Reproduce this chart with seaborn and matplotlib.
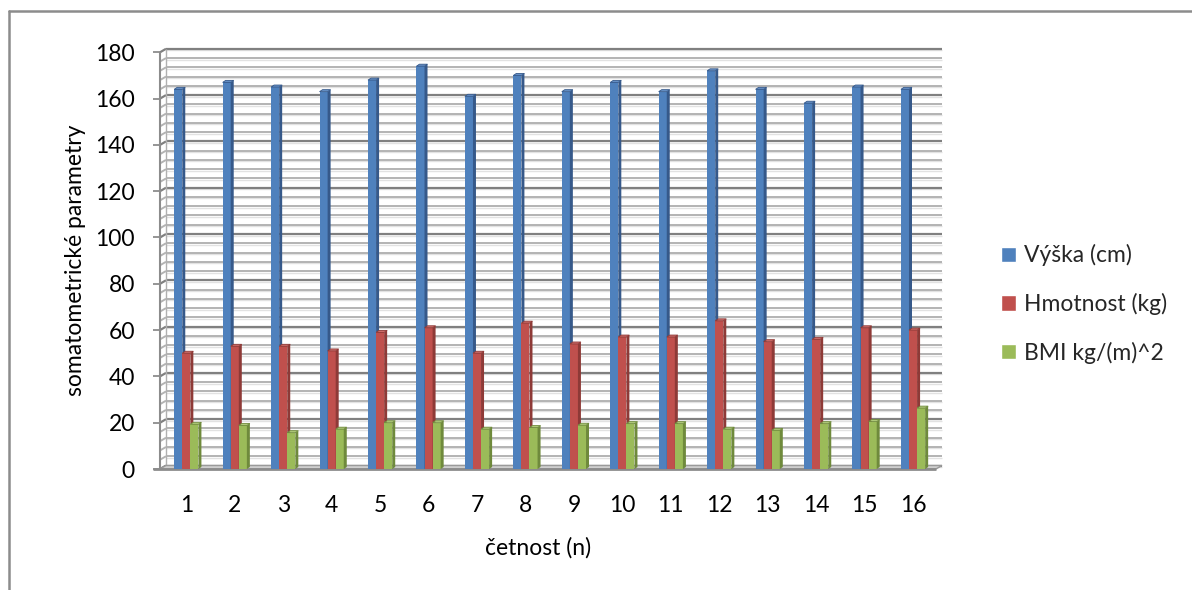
import numpy as np
import pandas as pd
import seaborn as sns
import matplotlib
matplotlib.use("Agg")
import matplotlib.pyplot as plt
from matplotlib.patches import Polygon
from matplotlib.lines import Line2D
from matplotlib.transforms import IdentityTransform

# --- data -------------------------------------------------------------
categories = [str(i) for i in range(1, 17)]
vyska = [164, 167, 165, 163, 168, 174, 161, 170, 163, 167, 163, 172, 164, 158, 165, 164]
hmotnost = [50, 53, 53, 51, 59, 61, 50, 63, 54, 57, 57, 64, 55, 56, 61, 60]
bmi = [19.3, 18.8, 15.7, 17.2, 20.0, 20.0, 17.2, 17.9, 18.9, 19.6, 19.6, 17.2, 16.7, 19.6, 20.5, 26.3]
series_names = ["Výška (cm)", "Hmotnost (kg)", "BMI kg/(m)^2"]
y_ticks = list(range(0, 181, 20))
y_minor = list(range(0, 181, 4))

# --- styling ----------------------------------------------------------
front_colors = ["#4F81BD", "#C0504D", "#9BBB59"]
side_colors = ["#36598A", "#8E3A37", "#6F8A3C"]
top_colors = ["#6690C6", "#CC6B68", "#AFC97A"]

sns.set_theme(style="white")
plt.rcParams["font.family"] = ["Lato", "DejaVu Sans"]
FS = 16.5

df = pd.DataFrame({
    "četnost": categories * 3,
    "hodnota": vyska + hmotnost + bmi,
    "řada": np.repeat(series_names, len(categories)),
})

W, H = 1192, 590
fig = plt.figure(figsize=(W / 100, H / 100), dpi=100)
fig.patch.set_facecolor("white")

# plot area (front plane) in pixels measured from the top-left corner
px_left, px_right, px_bottom, px_top = 160, 936, 469, 52.3
ax = fig.add_axes([px_left / W, 1 - px_bottom / H,
                   (px_right - px_left) / W, (px_bottom - px_top) / H])

sns.barplot(data=df, x="četnost", y="hodnota", hue="řada", hue_order=series_names,
            palette=front_colors, saturation=1, width=0.5, gap=0, ax=ax,
            legend=True, errorbar=None)

ax.set_xlim(-0.543, 15.474)
ax.set_ylim(0, 180)
ax.set_yticks(y_ticks)
ax.set_xlabel("")
ax.set_ylabel("")
for s in ax.spines.values():
    s.set_visible(False)
ax.patch.set_visible(False)
ax.grid(False)
ax.tick_params(axis="y", left=True, length=5, width=1.3, color="#8c8c8c",
               pad=13, labelsize=FS, labelcolor="black")
ax.tick_params(axis="x", bottom=False, length=0, pad=19, labelsize=FS,
               labelcolor="black")

# --- 3-D frame: back wall, side wall and floor -----------------------
dx, dy = 6, 3.5
T = ax.transData
x0d = T.transform((ax.get_xlim()[0], 0))[0]
x1d = T.transform((ax.get_xlim()[1], 0))[0]
y0d = T.transform((0, 0))[1]
ytopd = T.transform((0, 180))[1]
ident = IdentityTransform()


def add_line(xs, ys, color, lw, z):
    ln = Line2D(xs, ys, color=color, lw=lw, transform=ident, zorder=z,
                clip_on=False, solid_capstyle="butt")
    ax.add_line(ln)


for v in y_minor:
    yd = T.transform((0, v))[1]
    major = v % 20 == 0
    col = "#808080" if major else "#b3b3b3"
    lw = 1.6 if major else 1.4
    add_line([x0d + dx, x1d + dx], [yd + dy, yd + dy], col, lw, 0.5)
    add_line([x0d, x0d + dx], [yd, yd + dy], col, lw, 0.5)
    add_line([x0d + dx, x1d + dx], [yd + dy - 1.5, yd + dy - 1.5], "#e2e2e2", 1.0, 0.4)

# back wall left edge and front vertical axis
add_line([x0d + dx, x0d + dx], [y0d + dy, ytopd + dy], "#b0b0b0", 1.0, 0.6)
add_line([x0d, x0d], [y0d, ytopd], "#8c8c8c", 1.5, 0.7)

# floor
floor = Polygon([(x0d, y0d), (x1d, y0d), (x1d + dx, y0d + dy), (x0d + dx, y0d + dy)],
                closed=True, transform=ident, facecolor="#cfcfcf",
                edgecolor="#9a9a9a", lw=1.0, zorder=0.8, clip_on=False)
ax.add_patch(floor)
add_line([x0d - 7, x1d], [y0d, y0d], "#8c8c8c", 2.0, 0.9)

# --- bar depth (side and top faces) ---------------------------------
bdx, bdy = 3, 2
for i, cont in enumerate(ax.containers):
    for bar in cont:
        bar.set_zorder(2 + i)
        bar.set_edgecolor("none")
        bx, bw, bh = bar.get_x(), bar.get_width(), bar.get_height()
        X0, Y0 = T.transform((bx, 0))
        X1, Y1 = T.transform((bx + bw, bh))
        side = Polygon([(X1, Y0), (X1 + bdx, Y0 + bdy), (X1 + bdx, Y1 + bdy), (X1, Y1)],
                       closed=True, transform=ident, facecolor=side_colors[i],
                       edgecolor="none", zorder=2 + i + 0.5, clip_on=False)
        top = Polygon([(X0, Y1), (X1, Y1), (X1 + bdx, Y1 + bdy), (X0 + bdx, Y1 + bdy)],
                      closed=True, transform=ident, facecolor=top_colors[i],
                      edgecolor=side_colors[i], lw=0.6, zorder=2 + i + 0.5, clip_on=False)
        ax.add_patch(side)
        ax.add_patch(top)

# --- legend ----------------------------------------------------------
handles, labels = ax.get_legend_handles_labels()
ax.get_legend().remove()
fig.legend(handles, labels, loc="center left",
           bbox_to_anchor=(1001 / W, 1 - 304 / H), bbox_transform=fig.transFigure,
           frameon=False, fontsize=FS, handlelength=0.655, handleheight=0.655,
           handletextpad=0.35, labelspacing=1.16, borderpad=0, borderaxespad=0)

# --- axis titles -----------------------------------------------------
fig.text(75 / W, 1 - 260 / H, "somatometrické parametry", rotation=90,
         ha="center", va="center", fontsize=FS, color="black")
fig.text(538 / W, 1 - 548 / H, "četnost (n)", ha="center", va="center",
         fontsize=FS, color="black")

# --- chart border (left and top edges) -------------------------------
fig.add_artist(Line2D([9 / W, 9 / W], [0, 1 - 11 / H], transform=fig.transFigure,
                      color="#8c8c8c", lw=1.8))
fig.add_artist(Line2D([9 / W, 1], [1 - 11 / H, 1 - 11 / H], transform=fig.transFigure,
                      color="#8c8c8c", lw=1.8))

fig.savefig("out.png", dpi=100, facecolor="white")
